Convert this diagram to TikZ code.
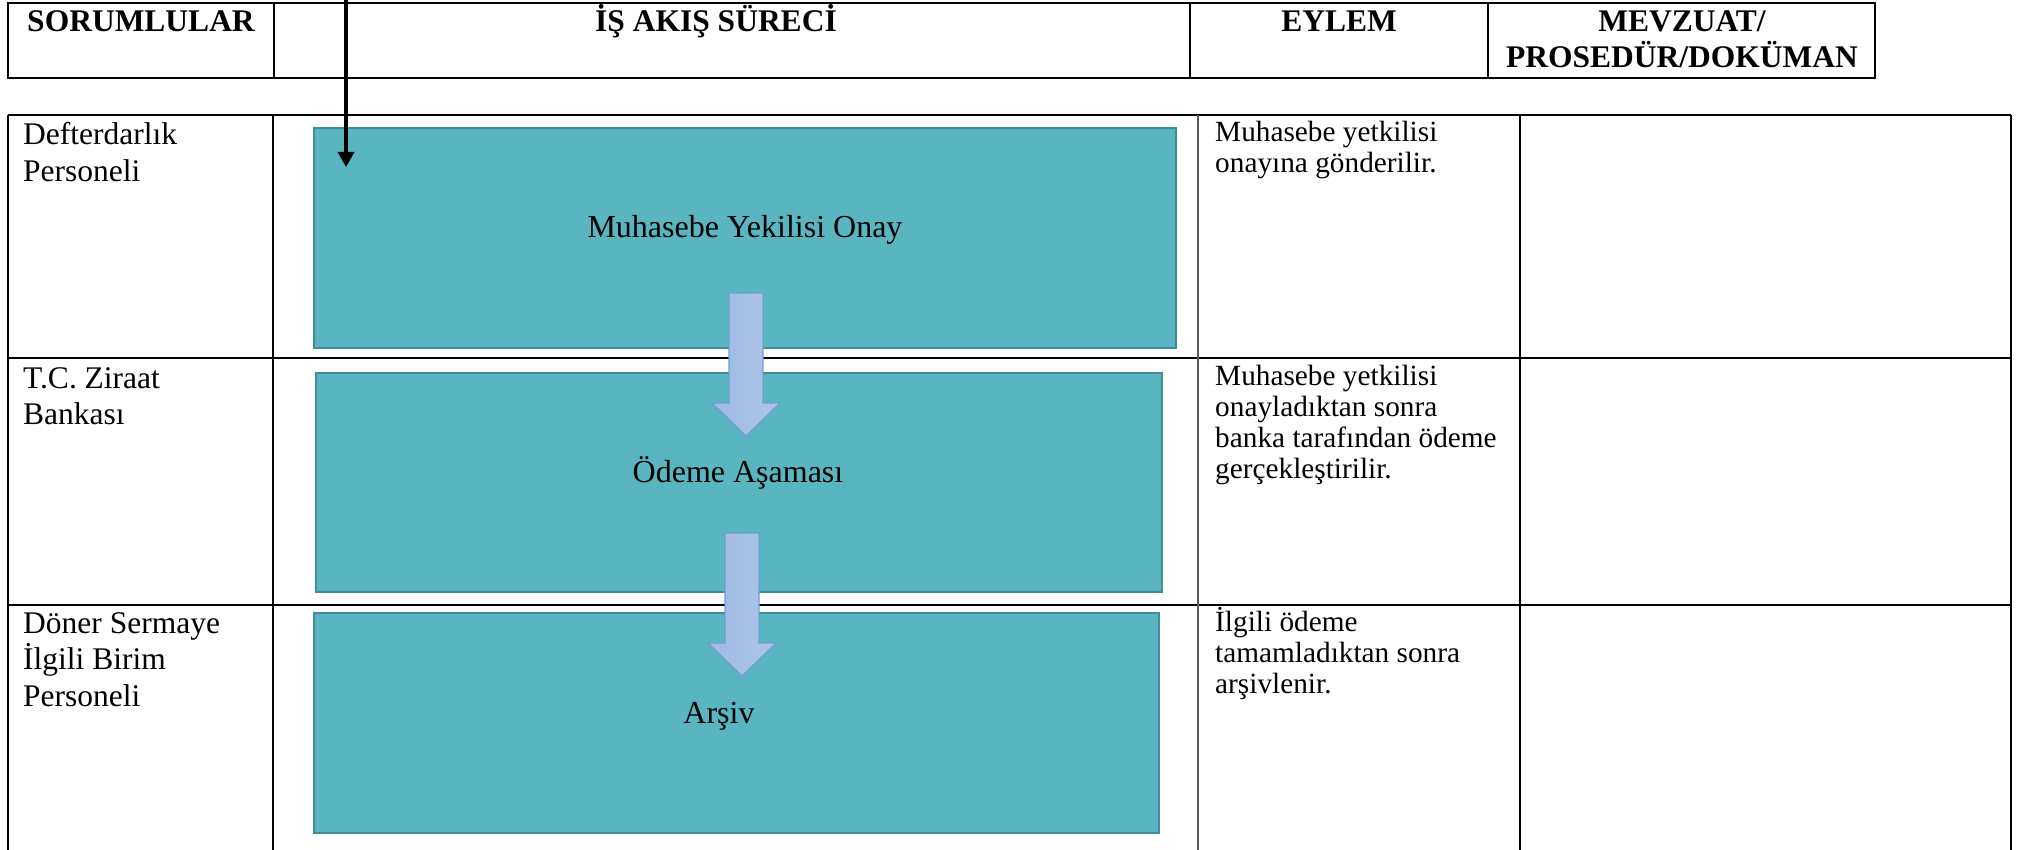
\documentclass[tikz,border=0pt]{standalone}
\usepackage{fontspec}
\setmainfont{Liberation Serif}
\usetikzlibrary{arrows.meta,calc}
\definecolor{boxfill}{RGB}{89,181,193}
\definecolor{boxline}{RGB}{66,140,148}
\definecolor{arrfillL}{RGB}{158,186,228}
\definecolor{arrfillR}{RGB}{174,198,234}
\definecolor{arrline}{RGB}{112,156,216}
\definecolor{gridgrey}{RGB}{90,90,90}
\begin{document}
\begin{tikzpicture}[x=1pt,y=-1pt,
  gridline/.style={line width=2pt,black},
  innerline/.style={line width=1.5pt,black},
  greyline/.style={line width=1.5pt,gridgrey},
  hdr/.style={anchor=base,inner sep=0pt,font=\fontsize{31.5}{36}\selectfont\bfseries},
  lefttxt/.style={anchor=base west,inner sep=0pt,font=\fontsize{31.5}{36.5}\selectfont},
  acttxt/.style={anchor=base west,inner sep=0pt,font=\fontsize{29.3}{31}\selectfont},
  flowbox/.style={draw=boxline,fill=boxfill,line width=2pt,inner sep=0pt},
  boxtxt/.style={anchor=base,inner sep=0pt,font=\fontsize{32}{36}\selectfont},
  blockarr/.style={draw=arrline,line width=1.2pt,left color=arrfillL,right color=arrfillR},
  thinarrow/.style={line width=3.3pt,-{Triangle[width=16pt,length=15pt]}}
]
\useasboundingbox (0,0) rectangle (2024,850);
\fill[white] (0,0) rectangle (2024,850);

% ---------- header table ----------
\draw[gridline] (8,3) rectangle (1875,78);
\draw[gridline] (274,3) -- (274,78);
\draw[gridline] (1190,3) -- (1190,78);
\draw[gridline] (1488,3) -- (1488,78);

\node[hdr] (hSor) at (141,32) {SORUMLULAR};
\node[hdr] (hIs)  at (716,32) {İŞ AKIŞ SÜRECİ};
\node[hdr] (hEy)  at (1339,32) {EYLEM};
\node[hdr] (hMev) at (1682,32) {\parbox[t]{380pt}{\centering MEVZUAT/\\PROSEDÜR/DOKÜMAN}};

% ---------- main table ----------
\draw[gridline] (8,115) -- (2011,115);
\draw[gridline] (8,358) -- (2011,358);
\draw[gridline] (8,605) -- (2011,605);
\draw[gridline] (8,115) -- (8,851);
\draw[gridline] (2011,115) -- (2011,851);
\draw[innerline] (273,115) -- (273,851);
\draw[greyline] (1198,115) -- (1198,851);
\draw[innerline] (1520,115) -- (1520,851);

% responsible column
\node[lefttxt] (r1) at (23,145) {\parbox[t]{245pt}{Defterdarlık\\Personeli}};
\node[lefttxt] (r2) at (23,388) {\parbox[t]{245pt}{T.C. Ziraat\\Bankası}};
\node[lefttxt] (r3) at (23,633) {\parbox[t]{245pt}{Döner Sermaye\\İlgili Birim\\Personeli}};

% action column
\node[acttxt] (a1) at (1215,142) {\parbox[t]{300pt}{Muhasebe yetkilisi\\onayına gönderilir.}};
\node[acttxt] (a2) at (1215,385) {\parbox[t]{300pt}{Muhasebe yetkilisi\\onayladıktan sonra\\banka tarafından ödeme\\gerçekleştirilir.}};
\node[acttxt] (a3) at (1215,631) {\parbox[t]{300pt}{İlgili ödeme\\tamamladıktan sonra\\arşivlenir.}};

% ---------- flow boxes ----------
\node[flowbox,minimum width=862pt,minimum height=220pt] (b1) at (745,238) {};
\node[flowbox,minimum width=846pt,minimum height=219pt] (b2) at (739,482.5) {};
\node[flowbox,minimum width=845pt,minimum height=220pt] (b3) at (736.5,723) {};

\node[boxtxt] (t1) at (745,238) {Muhasebe Yekilisi Onay};
\node[boxtxt] (t2) at (738,482) {Ödeme Aşaması};
\node[boxtxt] (t3) at (719,723) {Arşiv};

% ---------- block arrows ----------
\draw[blockarr] (729,293) -- (763,293) -- (763,403) -- (780,403) -- (746,436) -- (712,403) -- (729,403) -- cycle;
\draw[blockarr] (725,533) -- (759,533) -- (759,643) -- (776,643) -- (742,676) -- (708,643) -- (725,643) -- cycle;

% ---------- entry arrow ----------
\coordinate (entry) at (346,-2);
\coordinate (entryend) at (346,167);
\draw[thinarrow] (entry) -- (entryend);
\end{tikzpicture}
\end{document}
